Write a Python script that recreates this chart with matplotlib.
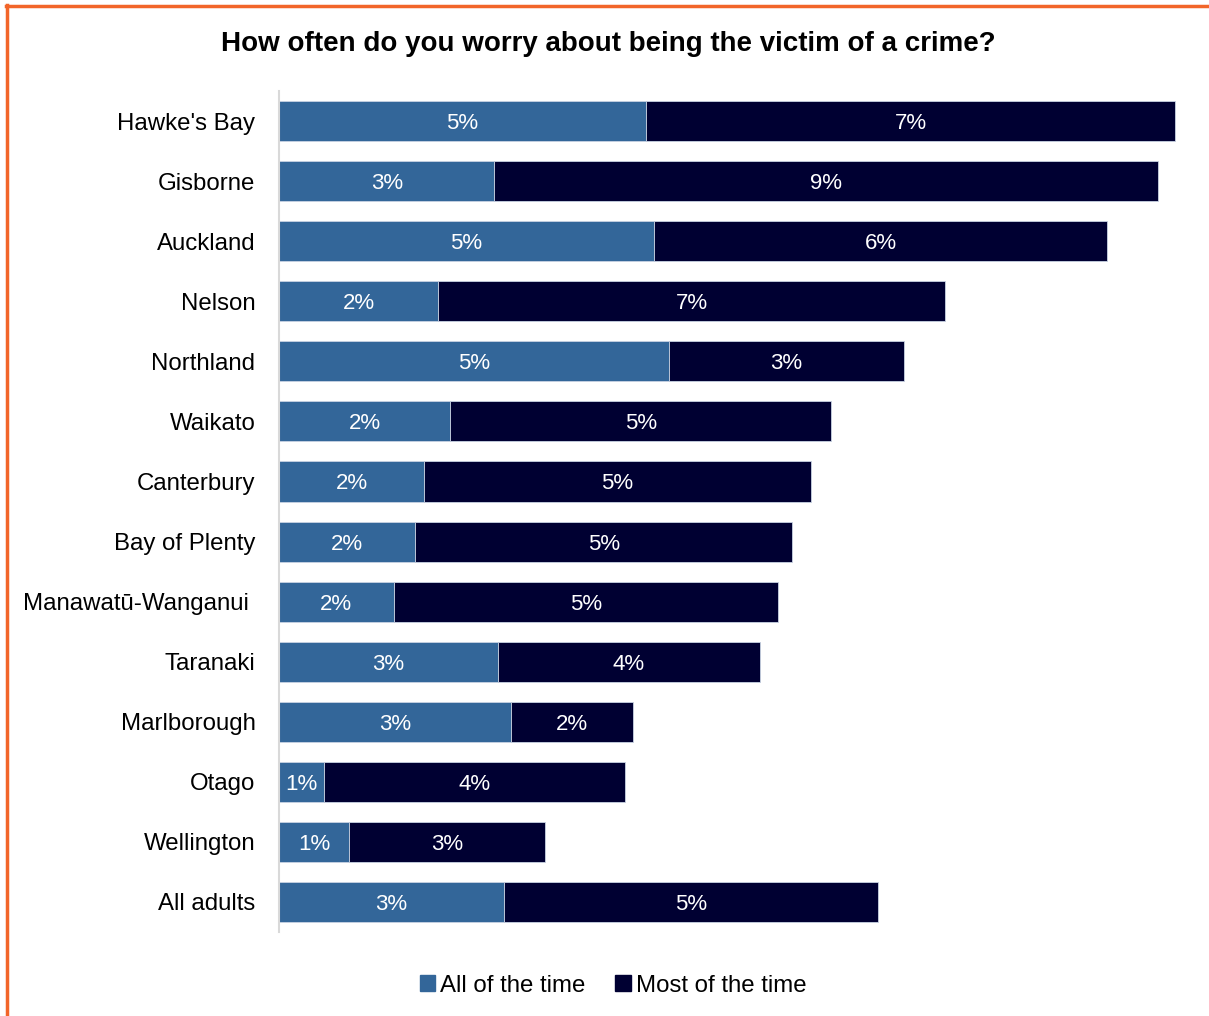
import matplotlib.pyplot as plt
from matplotlib.lines import Line2D
from matplotlib.patches import Patch

plt.rcParams['font.family'] = ['Liberation Sans', 'DejaVu Sans']

regions = ["Hawke's Bay", "Gisborne", "Auckland", "Nelson", "Northland", "Waikato",
           "Canterbury", "Bay of Plenty", "Manawatū-Wanganui ", "Taranaki",
           "Marlborough", "Otago", "Wellington", "All adults"]
all_time = [4.99, 2.93, 5.1, 2.16, 5.3, 2.33, 1.97, 1.85, 1.56, 2.98, 3.16, 0.61, 0.95, 3.06]
most_time = [7.2, 9.02, 6.16, 6.9, 3.2, 5.18, 5.27, 5.13, 5.22, 3.56, 1.66, 4.1, 2.67, 5.09]
all_labels = ["5%", "3%", "5%", "2%", "5%", "2%", "2%", "2%", "2%", "3%", "3%", "1%", "1%", "3%"]
most_labels = ["7%", "9%", "6%", "7%", "3%", "5%", "5%", "5%", "5%", "4%", "2%", "4%", "3%", "5%"]

blue = '#336699'
navy = '#000032'

fig = plt.figure(figsize=(12.09, 10.16), dpi=100)
ax = fig.add_axes([0.2308, 0.0827, 0.7535, 0.8277])

y = list(range(len(regions)))
ax.barh(y, all_time, height=0.667, color=blue, edgecolor='#c9d3e3', linewidth=0.6)
ax.barh(y, most_time, left=all_time, height=0.667, color=navy, edgecolor='#c9d3e3', linewidth=0.6)

for i in range(len(regions)):
    ax.text(all_time[i] / 2, i, all_labels[i], color='white', fontsize=16,
            ha='center', va='center_baseline')
    ax.text(all_time[i] + most_time[i] / 2, i, most_labels[i], color='white', fontsize=16,
            ha='center', va='center_baseline')

ax.set_ylim(13.5, -0.5)
ax.set_xlim(0, 12.39)
ax.set_yticks(y)
ax.set_yticklabels(regions, fontsize=17.3)
ax.tick_params(axis='y', length=0, pad=17)
ax.set_xticks([])
for s in ['top', 'right', 'bottom']:
    ax.spines[s].set_visible(False)
ax.spines['left'].set_color('#d9d9d9')
ax.spines['left'].set_linewidth(1.5)

fig.text(0.503, 0.957, "How often do you worry about being the victim of a crime?",
         fontsize=20, fontweight='bold', ha='center', va='center')

handles = [Patch(color=blue, label='All of the time'), Patch(color=navy, label='Most of the time')]
fig.legend(handles=handles, loc='center', bbox_to_anchor=(0.507, 0.030), ncol=2, frameon=False,
           fontsize=17.3, handlelength=0.65, handleheight=0.65, handletextpad=0.2, columnspacing=1.25)

# orange frame on top and left
fig.add_artist(Line2D([6 / 1209, 1], [1 - 5.5 / 1016, 1 - 5.5 / 1016], color='#f26529', linewidth=2.5,
                      transform=fig.transFigure))
fig.add_artist(Line2D([7 / 1209, 7 / 1209], [0, 1 - 4.5 / 1016], color='#f26529', linewidth=2.5,
                      transform=fig.transFigure))

fig.savefig('out.png', dpi=100)
